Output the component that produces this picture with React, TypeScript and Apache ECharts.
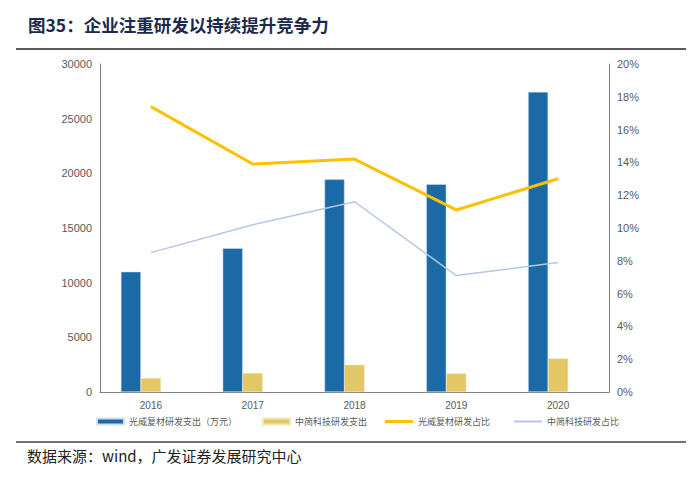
import React, { useEffect, useRef } from "react";
import * as echarts from "echarts";

const years = ["2016", "2017", "2018", "2019", "2020"];
const gwSpend = [11000, 13150, 19450, 19000, 27450];
const zjSpend = [1280, 1740, 2490, 1700, 3070];
const gwRatio = [17.4, 13.9, 14.2, 11.1, 13.0];
const zjRatio = [8.5, 10.2, 11.6, 7.1, 7.9];
const emptySlot = [null, null, null, null, null];

const names = ["光威复材研发支出（万元）", "中简科技研发支出", "光威复材研发占比", "中简科技研发占比"];

const axisGray = "#808080";
const labelGray = "#595959";

export default function App() {
  const ref = useRef<HTMLDivElement>(null);
  useEffect(() => {
    if (!ref.current) return;
    const chart = echarts.init(ref.current, null, { renderer: "svg" });
    const legendText = { color: labelGray, fontSize: 9, fontFamily: "Noto Sans CJK SC" };
    chart.setOption({
      animation: false,
      backgroundColor: "#ffffff",
      grid: { left: 100, right: 91, top: 64, bottom: 88, containLabel: false },
      graphic: [
        {
          type: "text",
          left: 28,
          top: 16,
          style: {
            text: "图35：企业注重研发以持续提升竞争力",
            fill: "#1b2b4b",
            font: "bold 17.5px 'Noto Sans CJK SC', sans-serif",
          },
        },
        { type: "line", shape: { x1: 16, y1: 49, x2: 686, y2: 49 }, style: { stroke: "#222", lineWidth: 1.5 } },
        { type: "line", shape: { x1: 16, y1: 442, x2: 686, y2: 442 }, style: { stroke: "#444", lineWidth: 1.5 } },
        {
          type: "text",
          left: 27,
          top: 448,
          style: {
            text: "数据来源：wind，广发证券发展研究中心",
            fill: "#222",
            font: "15px 'Noto Sans CJK SC', sans-serif",
          },
        },
      ],
      legend: [
        { data: [names[0]], left: 91, top: 412, itemWidth: 27, itemHeight: 6, icon: "rect", itemGap: 2, textStyle: legendText },
        { data: [names[1]], left: 257, top: 412, itemWidth: 27, itemHeight: 6, icon: "rect", textStyle: legendText },
        { data: [names[2]], left: 380, top: 412, itemWidth: 28, itemHeight: 3, icon: "rect", textStyle: legendText },
        { data: [names[3]], left: 509, top: 412, itemWidth: 28, itemHeight: 2, icon: "rect", textStyle: legendText },
      ],
      xAxis: {
        type: "category",
        data: years,
        axisLine: { show: true, lineStyle: { color: axisGray, width: 1 } },
        axisTick: { show: false },
        axisLabel: { color: labelGray, fontSize: 10, fontFamily: "Liberation Sans", margin: 8 },
      },
      yAxis: [
        {
          type: "value",
          min: 0,
          max: 30000,
          interval: 5000,
          axisLine: { show: true, lineStyle: { color: axisGray, width: 1 } },
          axisTick: { show: false },
          splitLine: { show: false },
          axisLabel: {
            color: labelGray,
            fontSize: 11,
            fontFamily: "Liberation Sans",
            margin: 8,
            formatter: (v: number) => String(v),
          },
        },
        {
          type: "value",
          min: 0,
          max: 20,
          interval: 2,
          position: "right",
          axisLine: { show: true, lineStyle: { color: axisGray, width: 1 } },
          axisTick: { show: false },
          splitLine: { show: false },
          axisLabel: { color: labelGray, fontSize: 11, fontFamily: "Liberation Sans", margin: 8, formatter: "{value}%" },
        },
      ],
      series: [
        {
          name: names[0],
          type: "bar",
          data: gwSpend,
          barWidth: 20,
          barGap: "0%",
          itemStyle: { color: "#1b6aa5", borderColor: "#cfe0ef", borderWidth: 0.5 },
        },
        {
          name: names[1],
          type: "bar",
          data: zjSpend,
          barWidth: 20,
          barGap: "0%",
          itemStyle: { color: "#e3c764", borderColor: "#f3e5b0", borderWidth: 0.5 },
        },
        {
          name: "",
          type: "bar",
          data: emptySlot,
          barWidth: 20,
          barGap: "0%",
        },
        {
          name: names[2],
          type: "line",
          yAxisIndex: 1,
          data: gwRatio,
          symbol: "none",
          lineStyle: { color: "#ffc000", width: 3 },
          itemStyle: { color: "#ffc000" },
        },
        {
          name: names[3],
          type: "line",
          yAxisIndex: 1,
          data: zjRatio,
          symbol: "none",
          lineStyle: { color: "#b4c7e7", width: 1.5 },
          itemStyle: { color: "#b4c7e7" },
        },
      ],
    });
    return () => chart.dispose();
  }, []);
  return <div ref={ref} style={{ position: "fixed", left: 0, top: 0, width: 700, height: 480 }} />;
}
